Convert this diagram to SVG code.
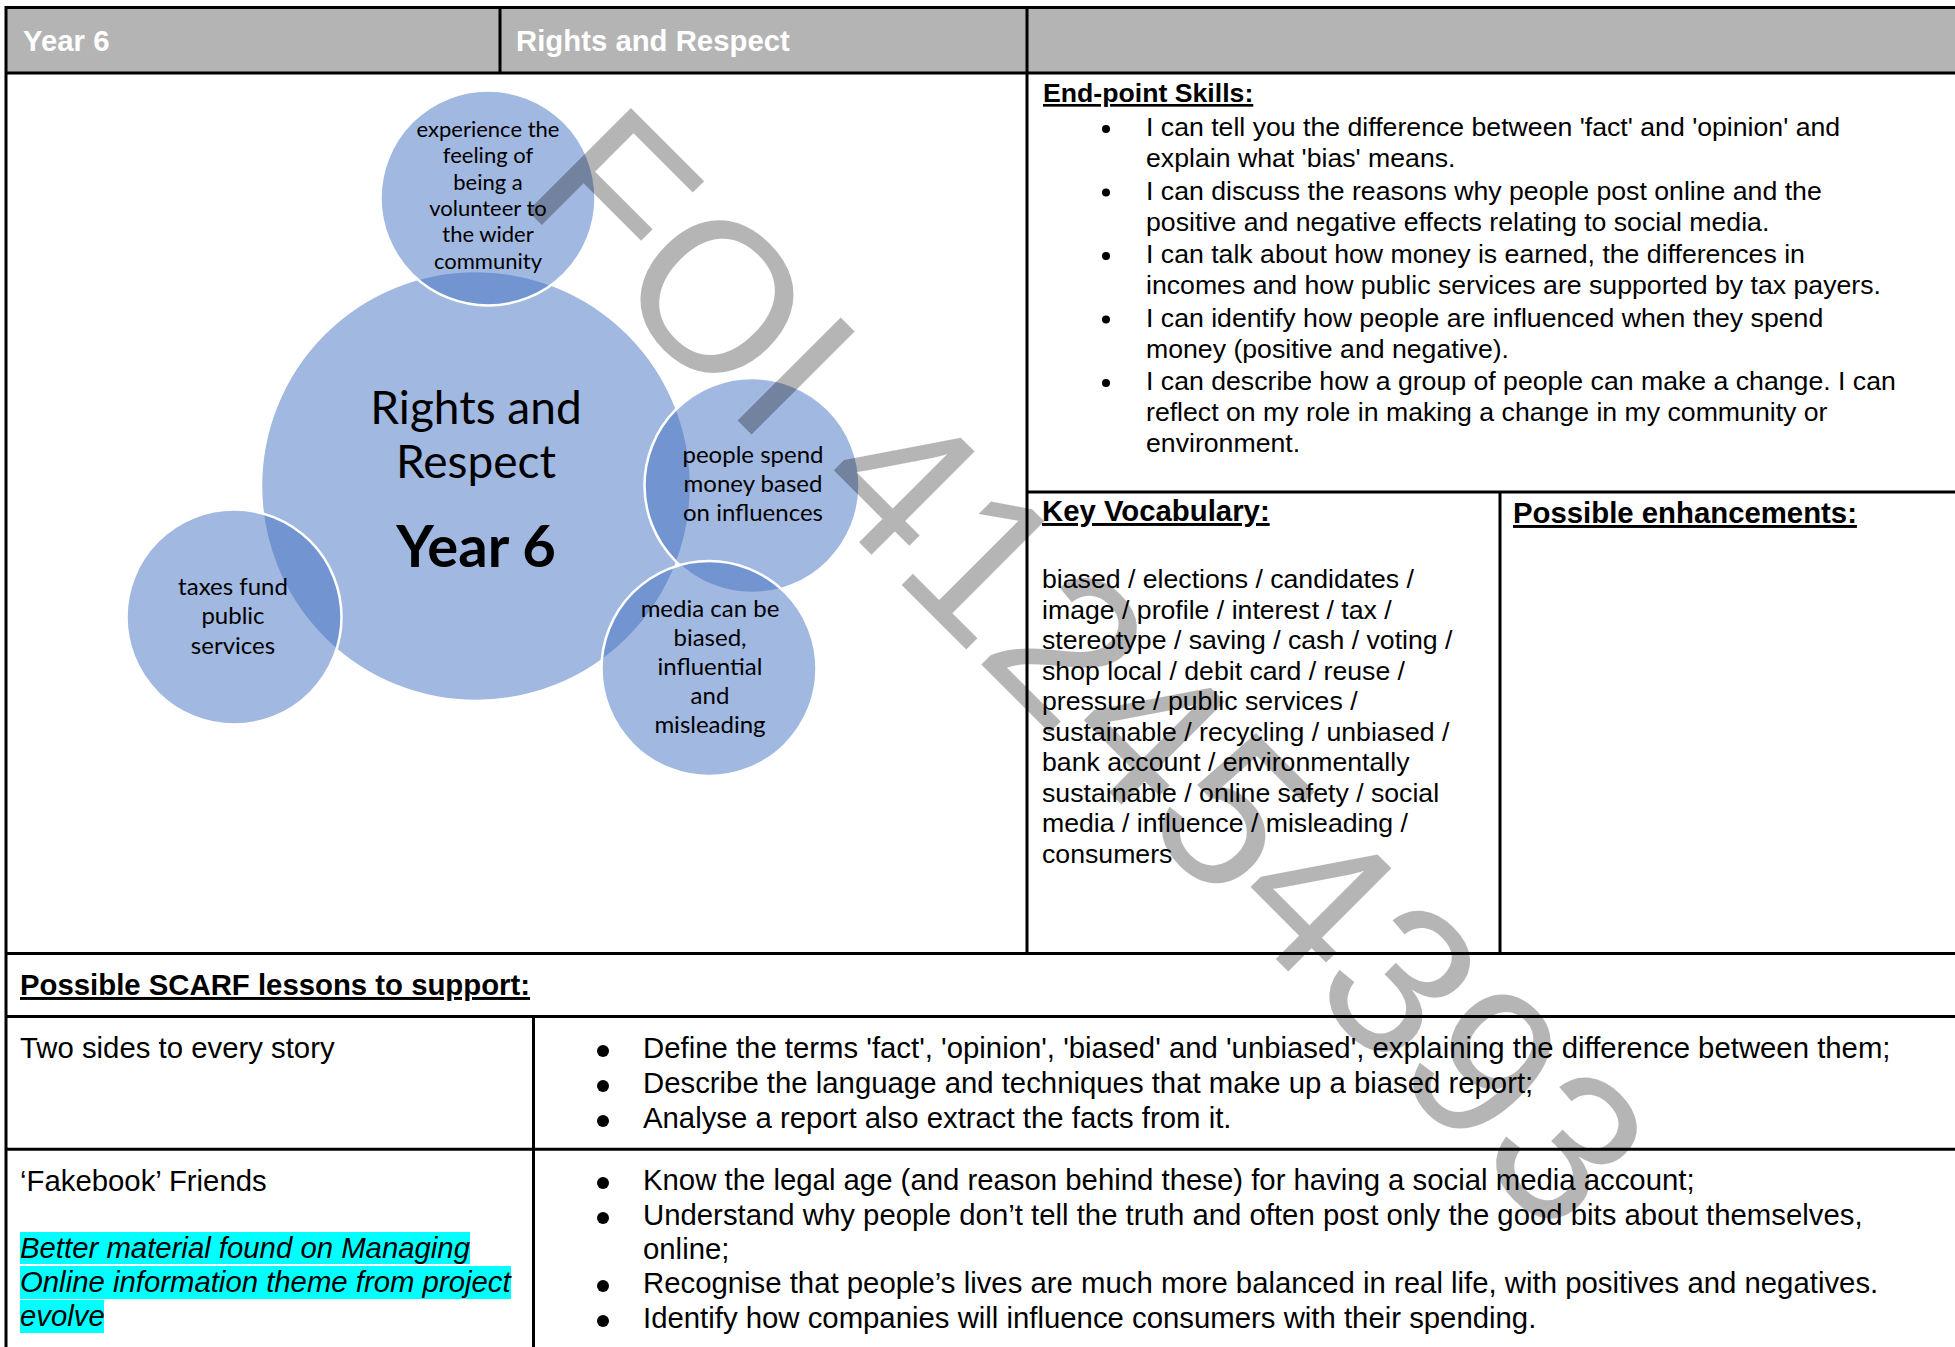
<svg xmlns="http://www.w3.org/2000/svg" width="1955" height="1347" viewBox="0 0 1955 1347">
<style>
.b{font-family:"Liberation Sans",Arial,sans-serif;fill:#000}
.hd{font-family:"Liberation Sans",Arial,sans-serif;font-weight:bold;font-size:29.33px;fill:#fff}
.h{font-family:"Liberation Sans",Arial,sans-serif;font-weight:bold;fill:#000;text-decoration:underline}
.s{font-size:26.67px}
.l{font-size:29.33px}
.it{font-style:italic}
.ln{stroke:#000;stroke-width:3;fill:none}
.c{fill:#4472c4;fill-opacity:0.5;stroke:#fff;stroke-width:2.5}
.ct{font-family:Lato,"Open Sans",sans-serif;text-anchor:middle;fill:#000}
.wm{font-family:"Liberation Sans",Arial,sans-serif;font-size:212px;fill:#000;fill-opacity:0.29}
</style>
<rect x="0" y="0" width="1955" height="1347" fill="#fff"/>
<g id="header">
<rect x="6" y="7.5" width="1949" height="65.5" fill="#b4b4b4"/>
<text class="hd" x="23" y="51">Year 6</text>
<text class="hd" x="516" y="51">Rights and Respect</text>
</g>
<g id="grid">
<line class="ln" x1="6" y1="7.5" x2="1955" y2="7.5"/>
<line class="ln" x1="6" y1="73" x2="1955" y2="73"/>
<line class="ln" x1="6" y1="6" x2="6" y2="1347"/>
<line class="ln" x1="500" y1="7.5" x2="500" y2="73"/>
<line class="ln" x1="1027" y1="7.5" x2="1027" y2="953.5"/>
<line class="ln" x1="1027" y1="492" x2="1955" y2="492"/>
<line class="ln" x1="1500" y1="492" x2="1500" y2="953.5"/>
<line class="ln" x1="6" y1="953.5" x2="1955" y2="953.5"/>
<line class="ln" x1="6" y1="1016.5" x2="1955" y2="1016.5"/>
<line class="ln" x1="6" y1="1149.3" x2="1955" y2="1149.3"/>
<line class="ln" x1="533.5" y1="1016.5" x2="533.5" y2="1347"/>
</g>
<g id="circles">
<g id="node-main">
<circle class="c" cx="476" cy="486" r="215"/>
</g>
<g id="node-volunteer">
<circle class="c" cx="488" cy="198" r="107.5"/>
<text class="ct" font-size="22" x="488"><tspan x="488" y="137">experience the</tspan><tspan x="488" y="163.3">feeling of</tspan><tspan x="488" y="189.6">being a</tspan><tspan x="488" y="215.9">volunteer to</tspan><tspan x="488" y="242.2">the wider</tspan><tspan x="488" y="268.5">community</tspan></text>
</g>
<g id="node-taxes">
<circle class="c" cx="234" cy="617" r="107.5"/>
<text class="ct" font-size="24"><tspan x="233" y="595">taxes fund</tspan><tspan x="233" y="624">public</tspan><tspan x="233" y="654">services</tspan></text>
</g>
<g id="node-spend">
<circle class="c" cx="752" cy="485.5" r="107.5"/>
<text class="ct" font-size="24"><tspan x="753" y="463">people spend</tspan><tspan x="753" y="492">money based</tspan><tspan x="753" y="521">on influences</tspan></text>
</g>
<g id="node-media">
<circle class="c" cx="709" cy="668.5" r="107.5"/>
<text class="ct" font-size="24"><tspan x="710" y="617">media can be</tspan><tspan x="710" y="646">biased,</tspan><tspan x="710" y="675">influential</tspan><tspan x="710" y="704">and</tspan><tspan x="710" y="733">misleading</tspan></text>
</g>
<g id="node-main-label">
<text class="ct" font-size="46"><tspan x="476" y="424">Rights and</tspan><tspan x="476" y="478">Respect</tspan></text>
<text class="ct" font-size="58" font-weight="bold" x="476" y="567">Year 6</text>
</g>
</g>
<g id="connectors"></g>
<g id="endpoint">
<text class="h s" x="1043" y="102">End-point Skills:</text>
<g fill="#000"><circle cx="1106" cy="129" r="4"/><circle cx="1106" cy="192.5" r="4"/><circle cx="1106" cy="256" r="4"/><circle cx="1106" cy="319.5" r="4"/><circle cx="1106" cy="383" r="4"/></g>
<text class="b s">
<tspan x="1146" y="136">I can tell you the difference between 'fact' and 'opinion' and</tspan>
<tspan x="1146" y="167">explain what 'bias' means.</tspan>
<tspan x="1146" y="199.5">I can discuss the reasons why people post online and the</tspan>
<tspan x="1146" y="230.5">positive and negative effects relating to social media.</tspan>
<tspan x="1146" y="263">I can talk about how money is earned, the differences in</tspan>
<tspan x="1146" y="294">incomes and how public services are supported by tax payers.</tspan>
<tspan x="1146" y="326.5">I can identify how people are influenced when they spend</tspan>
<tspan x="1146" y="357.5">money (positive and negative).</tspan>
<tspan x="1146" y="390">I can describe how a group of people can make a change. I can</tspan>
<tspan x="1146" y="421">reflect on my role in making a change in my community or</tspan>
<tspan x="1146" y="452">environment.</tspan>
</text>
</g>
<g id="vocab">
<text class="h l" x="1042" y="521">Key Vocabulary:</text>
<text class="b s">
<tspan x="1042" y="588">biased / elections / candidates /</tspan>
<tspan x="1042" y="618.5">image / profile / interest / tax /</tspan>
<tspan x="1042" y="649">stereotype / saving / cash / voting /</tspan>
<tspan x="1042" y="679.5">shop local / debit card / reuse /</tspan>
<tspan x="1042" y="710">pressure / public services /</tspan>
<tspan x="1042" y="740.5">sustainable / recycling / unbiased /</tspan>
<tspan x="1042" y="771">bank account / environmentally</tspan>
<tspan x="1042" y="801.5">sustainable / online safety / social</tspan>
<tspan x="1042" y="832">media / influence / misleading /</tspan>
<tspan x="1042" y="862.5">consumers</tspan>
</text>
</g>
<g id="enhancements">
<text class="h l" x="1513" y="523">Possible enhancements:</text>
</g>
<g id="scarf">
<text class="h l" x="20" y="995">Possible SCARF lessons to support:</text>
</g>
<g id="lesson-1">
<text class="b l" x="20" y="1058">Two sides to every story</text>
<g fill="#000"><circle cx="603" cy="1051" r="6"/><circle cx="603" cy="1086" r="6"/><circle cx="603" cy="1121" r="6"/></g>
<text class="b l">
<tspan x="643" y="1058">Define the terms 'fact', 'opinion', 'biased' and 'unbiased', explaining the difference between them;</tspan>
<tspan x="643" y="1093">Describe the language and techniques that make up a biased report;</tspan>
<tspan x="643" y="1128">Analyse a report also extract the facts from it.</tspan>
</text>
</g>
<g id="lesson-2">
<text class="b l" x="20" y="1191">‘Fakebook’ Friends</text>
<rect x="20" y="1232" width="450" height="32" fill="#00ffff"/>
<rect x="20" y="1266" width="491" height="33" fill="#00ffff"/>
<rect x="20" y="1300" width="84" height="33" fill="#00ffff"/>
<text class="b l it">
<tspan x="20" y="1258">Better material found on Managing</tspan>
<tspan x="20" y="1292">Online information theme from project</tspan>
<tspan x="20" y="1326">evolve</tspan>
</text>
<g fill="#000"><circle cx="603" cy="1183" r="6"/><circle cx="603" cy="1218" r="6"/><circle cx="603" cy="1286" r="6"/><circle cx="603" cy="1321" r="6"/></g>
<text class="b l">
<tspan x="643" y="1190">Know the legal age (and reason behind these) for having a social media account;</tspan>
<tspan x="643" y="1225">Understand why people don’t tell the truth and often post only the good bits about themselves,</tspan>
<tspan x="643" y="1259">online;</tspan>
<tspan x="643" y="1293">Recognise that people’s lives are much more balanced in real life, with positives and negatives.</tspan>
<tspan x="643" y="1328">Identify how companies will influence consumers with their spending.</tspan>
</text>
</g>
<g id="watermark">
<text class="wm" x="515.5" y="198.7" transform="rotate(45 515.5 198.7)">FOI 412454393</text>
</g>
</svg>
